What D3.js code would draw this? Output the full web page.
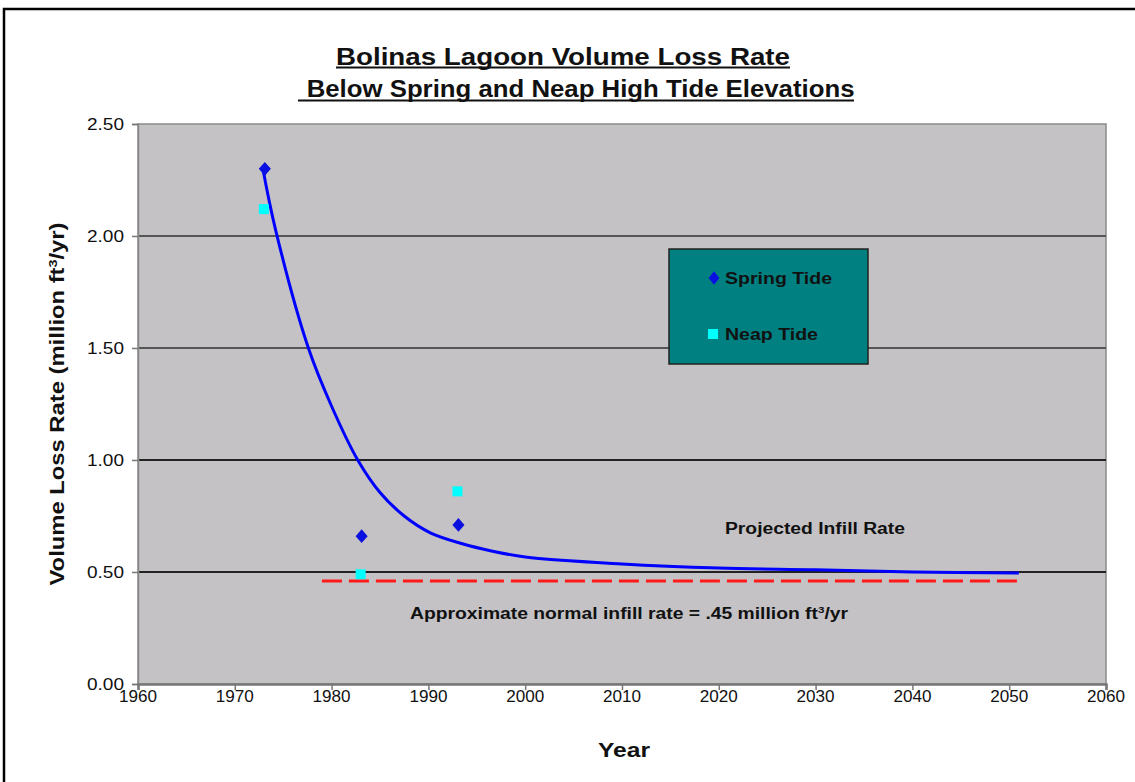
<!DOCTYPE html>
<html><head><meta charset="utf-8">
<script src="https://cdn.jsdelivr.net/npm/d3@7"></script>
<style>body{margin:0;background:#fff}svg{display:block}text{font-family:"Liberation Sans",Arial,sans-serif;fill:#111}</style>
</head><body>
<svg id="c" width="1135" height="782"></svg>
<script>
// ---- data ----
const xTickYears = [1960,1970,1980,1990,2000,2010,2020,2030,2040,2050,2060];
const yTickValues = [0,0.5,1.0,1.5,2.0,2.5];
const yTickLabels = ["0.00","0.50","1.00","1.50","2.00","2.50"];
const springYears = [1973, 1983, 1993];
const springValues = [2.30, 0.66, 0.71];
const neapYears = [1973, 1983, 1993];
const neapValues = [2.12, 0.49, 0.86];
const trendYears = [1972.9, 1974.2, 1977.6, 1980, 1982.7, 1985.0, 1987.5, 1990.2, 1993.6, 1996.4, 2000, 2010, 2020, 2030, 2040, 2051];
const trendValues = [2.30, 2.03, 1.50, 1.24, 1.00, 0.855, 0.75, 0.675, 0.625, 0.595, 0.567, 0.536, 0.518, 0.51, 0.50, 0.496];
const infillYears = [1979, 2051];
const infillValues = [0.46, 0.46];
const titleLines = ["Bolinas Lagoon Volume Loss Rate", "\u00a0Below Spring and Neap High Tide Elevations"];
const legendLabels = ["Spring Tide", "Neap Tide"];

const svg = d3.select("#c");
const L = 138, R = 1106, T = 124, B = 684;
const x = d3.scaleLinear().domain([1960,2060]).range([L,R]);
const y = d3.scaleLinear().domain([0,2.5]).range([B,T]);

// outer frame
svg.append("rect").attr("x",4).attr("y",9).attr("width",1200).attr("height",900)
  .attr("fill","#fff").attr("stroke","#000").attr("stroke-width",2.5);

// text helper: fits text to a measured width
function txt(g, s, cx, cy, fs, w, opts={}){
  const t = g.append("text").attr("font-size",fs).attr("font-weight",opts.bold?"bold":"normal")
    .attr("text-anchor",opts.anchor||"middle")
    .attr("x",cx).attr("y",cy+fs*0.36);
  if (opts.sup){
    t.append("tspan").text(s[0]);
    t.append("tspan").text(s[1]).attr("font-size",fs*0.6).attr("baseline-shift","60%");
    t.append("tspan").text(s[2]);
  } else t.text(s);
  if (w) t.attr("textLength",w).attr("lengthAdjust","spacingAndGlyphs");
  if (opts.rotate) t.attr("transform",`rotate(-90,${cx},${cy})`);
  return t;
}

// plot area
svg.append("rect").attr("x",L).attr("y",T).attr("width",R-L).attr("height",B-T)
  .attr("fill","#c4c2c4").attr("stroke","#8a8a8a").attr("stroke-width",1.5);

// gridlines
svg.append("g").selectAll("line").data(yTickValues.filter(v=>v>0 && v<2.5)).join("line")
  .attr("x1",L).attr("x2",R).attr("y1",d=>y(d)).attr("y2",d=>y(d))
  .attr("stroke",d=>d<=1?"#222":"#555").attr("stroke-width",2);

// axes
const gy = svg.append("g").attr("transform",`translate(${L},0)`)
  .call(d3.axisLeft(y).tickValues(yTickValues).tickFormat(()=>"").tickSizeOuter(0).tickSize(6));
const gx = svg.append("g").attr("transform",`translate(0,${B})`)
  .call(d3.axisBottom(x).tickValues(xTickYears).tickFormat(()=>"").tickSizeOuter(0).tickSize(6));
gy.selectAll("line").attr("stroke","#777").attr("stroke-width",1.5);
gx.selectAll("line").attr("stroke","#777").attr("stroke-width",1.5);
gy.select(".domain").attr("stroke","#888").attr("stroke-width",1.5);
gx.select(".domain").attr("stroke","#777").attr("stroke-width",2.5);

const lab = svg.append("g");
yTickValues.forEach((v,i)=>txt(lab, yTickLabels[i], 124, y(v), 17, 37, {anchor:"end"}));
xTickYears.forEach(v=>txt(lab, String(v), x(v), 696, 17, 38));

// titles
txt(lab, titleLines[0], 563, 57, 23, 454, {bold:true});
txt(lab, titleLines[1], 577, 89, 23, 555, {bold:true});
svg.append("line").attr("x1",336).attr("x2",790).attr("y1",67.5).attr("y2",67.5).attr("stroke","#111").attr("stroke-width",2);
svg.append("line").attr("x1",298).attr("x2",854).attr("y1",100.5).attr("y2",100.5).attr("stroke","#111").attr("stroke-width",2);

txt(lab, "Year", 624, 750, 20, 52, {bold:true});
txt(lab, ["Volume Loss Rate (million ft","3","/yr)"], 57, 404, 19.5, 363, {bold:true, rotate:true, sup:true});

// infill dashed line
svg.append("path").datum(infillYears.map((d,i)=>[d,infillValues[i]]))
  .attr("d", d3.line().x(d=>x(d[0])).y(d=>y(d[1])))
  .attr("fill","none").attr("stroke","#ff1a1a").attr("stroke-width",3).attr("stroke-dasharray","20,7");

// trend curve
svg.append("path").datum(trendYears.map((d,i)=>[d,trendValues[i]]))
  .attr("d", d3.line().curve(d3.curveCatmullRom.alpha(0.5)).x(d=>x(d[0])).y(d=>y(d[1])))
  .attr("fill","none").attr("stroke","#0000ff").attr("stroke-width",3);

// markers
const diamond = d3.symbol().type(d3.symbolDiamond).size(60);
svg.append("g").selectAll("path").data(springYears.map((d,i)=>[d,springValues[i]])).join("path")
  .attr("d",diamond).attr("transform",d=>`translate(${x(d[0])+1},${y(d[1])}) scale(1.45,0.95)`).attr("fill","#0a10e0");
svg.append("g").selectAll("rect").data(neapYears.map((d,i)=>[d,neapValues[i]])).join("rect")
  .attr("x",d=>x(d[0])-5).attr("y",d=>y(d[1])-5).attr("width",10).attr("height",10).attr("fill","#00ffff");

// annotations
txt(lab, "Projected Infill Rate", 725, 528, 16, 180, {bold:true, anchor:"start"});
txt(lab, ["Approximate normal infill rate = .45 million ft","3","/yr"], 410, 613, 16, 438, {bold:true, anchor:"start", sup:true});

// legend
const lg = svg.append("g");
lg.append("rect").attr("x",669).attr("y",249).attr("width",199).attr("height",115)
  .attr("fill","#008080").attr("stroke","#222").attr("stroke-width",1.5);
lg.append("path").attr("d",diamond).attr("transform","translate(714,278) scale(1.3,0.95)").attr("fill","#0a10e0");
lg.append("rect").attr("x",708).attr("y",329).attr("width",10).attr("height",10).attr("fill","#00ffff");
txt(lg, legendLabels[0], 725, 278, 16.5, 107, {bold:true, anchor:"start"});
txt(lg, legendLabels[1], 725, 334, 16.5, 93, {bold:true, anchor:"start"});
</script>
</body></html>
